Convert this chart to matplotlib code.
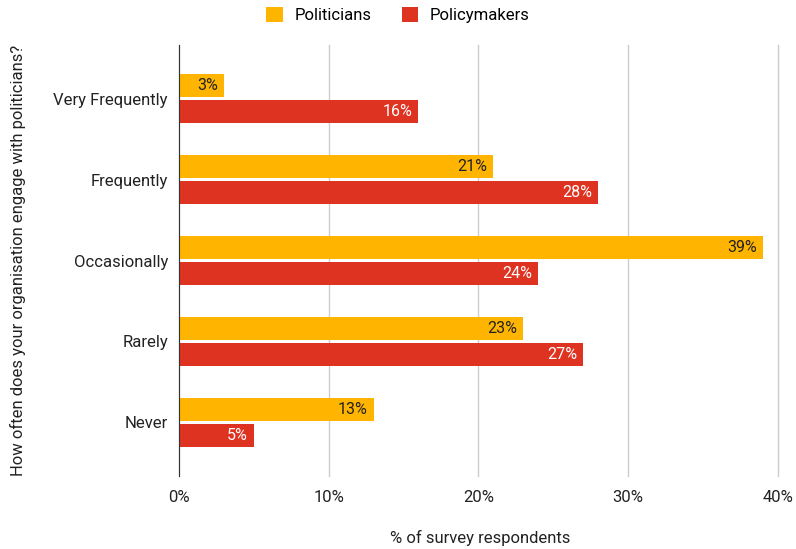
import matplotlib
matplotlib.use("Agg")
import matplotlib.pyplot as plt
import numpy as np

categories = ["Very Frequently", "Frequently", "Occasionally", "Rarely", "Never"]
politicians = [3, 21, 39, 23, 13]
policymakers = [16, 28, 24, 27, 5]
series_names = ["Politicians", "Policymakers"]
colors = ["#FFB500", "#DF3321"]
xticks = [0, 10, 20, 30, 40]

plt.rcParams['font.family'] = ['Roboto', 'DejaVu Sans']
fs = 12

fig = plt.figure(figsize=(7.96, 5.49), dpi=100)
ax = fig.add_axes([0.2249, 0.133, 0.752, 0.785])

y = np.arange(len(categories))
h = 0.285
b1 = ax.barh(y - 0.16, politicians, height=h, color=colors[0], label=series_names[0], zorder=3)
b2 = ax.barh(y + 0.16, policymakers, height=h, color=colors[1], label=series_names[1], zorder=3)

for bars, vals, tc in [(b1, politicians, "#222222"), (b2, policymakers, "white")]:
    for bar, v in zip(bars, vals):
        ax.text(v - 0.4, bar.get_y() + bar.get_height() / 2, f"{v}%",
                ha="right", va="center", color=tc, fontsize=11.5, zorder=4)

ax.set_ylim(len(categories) - 1 + 0.667, -0.667)
ax.set_xlim(0, 40)
ax.set_yticks(y)
ax.set_yticklabels(categories, fontsize=fs, color="#222222")
ax.set_xticks(xticks)
ax.set_xticklabels([f"{t}%" for t in xticks], fontsize=fs, color="#222222")
ax.tick_params(length=0, pad=8)
ax.tick_params(axis="x", pad=10)

ax.grid(axis="x", color="#CCCCCC", linewidth=1, zorder=0)
for gl in ax.get_xgridlines():
    gl.set_clip_on(False)
for s in ["top", "right", "bottom"]:
    ax.spines[s].set_visible(False)
ax.spines["left"].set_color("#333333")
ax.spines["left"].set_zorder(5)

fig.text(480 / 796, 1 - 538 / 549, "% of survey respondents", fontsize=fs,
         color="#222222", ha="center", va="center")
ax.set_ylabel("How often does your organisation engage with politicians?",
              fontsize=fs, color="#222222")
ax.yaxis.set_label_coords(-0.255, 0.5)

fig.legend(handles=[b1, b2], loc="center", bbox_to_anchor=(0.5, 0.972), ncol=2,
           frameon=False, fontsize=fs, handlelength=1.0, handleheight=1.0,
           columnspacing=1.8, handletextpad=0.7)

fig.savefig("out.png", dpi=100)
